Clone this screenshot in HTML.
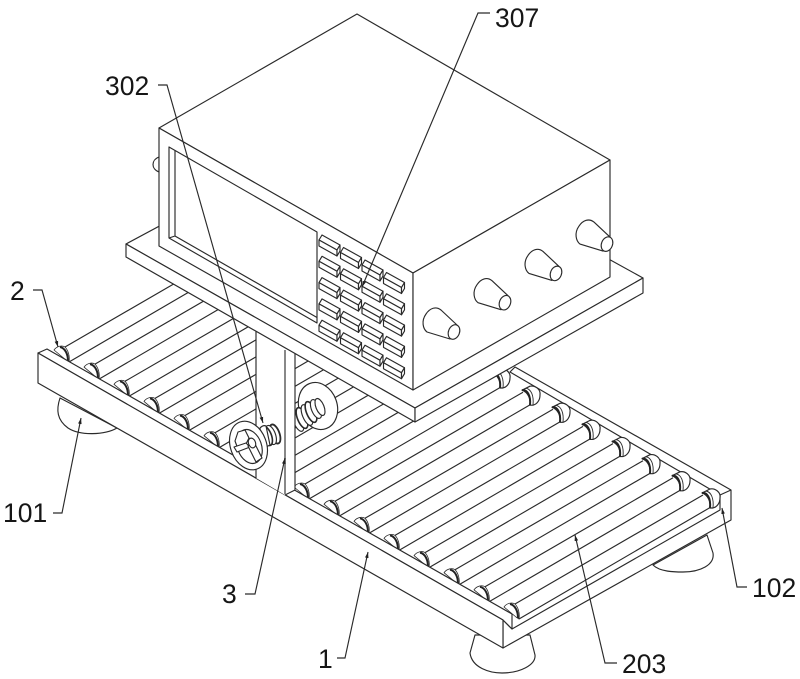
<!DOCTYPE html>
<html><head><meta charset="utf-8"><style>
html,body{margin:0;padding:0;background:#fff}
svg{display:block}
.l{fill:#fff;stroke:#2a2a2a;stroke-width:1.15;stroke-linejoin:round}
.n{fill:none;stroke:#2a2a2a;stroke-width:1.15}
.a{fill:none;stroke:#2a2a2a;stroke-width:1.15;marker-end:url(#ah)}
.d{fill:none;stroke:#222;stroke-width:2}
.t{fill:none;stroke:#2a2a2a;stroke-width:.9}
text{font-family:"Liberation Sans",sans-serif;font-size:26.5px;fill:#161616}
</style></head><body>
<svg width="800" height="679" viewBox="0 0 800 679" xmlns="http://www.w3.org/2000/svg">
<defs>
<marker id="ah" markerUnits="userSpaceOnUse" markerWidth="7" markerHeight="5" refX="6" refY="2.5" orient="auto">
<path d="M0,0.700 L6,2.500 L0,4.300 Z" fill="#222"/>
</marker>
<g id="r">
<path d="M2,-6 L190,-115 L199,-103 L6,9 Z" fill="#fff"/>
<path class="n" d="M2,-6 L190,-115 M6,9 L198,-103"/>
<!-- right collar -->
<path class="l" d="M189,-117 L197,-121 C202,-122 208,-118 207,-112 C207,-107 204,-103 200,-102 L197,-102 C198,-108 195,-115 189,-117 Z"/>
<path class="d" d="M189,-117 C194,-118 198,-112 197,-102"/>
<path class="t" d="M193,-119 C198,-118 201,-112 200,-102"/>
<!-- left crescent -->
<path class="l" d="M-9,-3 C-6,-7 -1,-8 2,-6 C5,-3 7,3 6,9 L3,7 Z" style="stroke-width:.8"/>
<path class="d" d="M-3,-6 C2,-5 5,1 5,8"/>
</g>
<g id="k">
<path class="l" d="M0,0 L3,-5 L21,5 L18,10 Z"/>
<path class="l" d="M0,0 L18,10 L18,16 L0,6 Z"/>
<path class="l" d="M18,10 L21,5 L21,11 L18,16 Z"/>
</g>
<g id="col">
<use href="#k"/><use href="#k" y="21.3"/><use href="#k" y="42.6"/><use href="#k" y="63.9"/><use href="#k" y="85.2"/>
</g>
<g id="kn">
<path class="l" d="M457,325 L441,310 C436,306 430,308 426,314 C421,321 423,329 427,332 L450,339 Z"/>
<ellipse class="l" cx="454" cy="332" rx="5.5" ry="7.5" transform="rotate(22 454 332)"/>
</g>
</defs>

<!-- feet -->
<path class="l" d="M60,398 C56,410 57,420 68,428 C80,436 105,435 117,428 Z"/>
<path class="l" d="M475,635 L470,653 C472,668 490,673 502,673 C520,673 536,665 535,655 L530,635 Z"/>
<path class="l" d="M653,565 C660,572 675,572 683,572 C700,572 715,565 713,553 L707,535 Z"/>

<!-- frame rear + end rail -->
<path class="l" d="M510,372 L515,367 L731,490 L731,520 L503,648 L503,620 L512,629 L720,510 L720,495 Z"/>
<path class="n" d="M720,495 L731,490"/>

<!-- rollers -->
<use href="#r" x="63" y="353"/>
<use href="#r" x="93" y="370.1"/>
<use href="#r" x="123" y="387.3"/>
<use href="#r" x="153" y="404.4"/>
<use href="#r" x="183" y="421.5"/>
<use href="#r" x="213" y="438.7"/>
<use href="#r" x="243" y="455.8"/>
<use href="#r" x="273" y="472.9"/>
<use href="#r" x="303" y="490"/>
<use href="#r" x="333" y="507.2"/>
<use href="#r" x="363" y="524.3"/>
<use href="#r" x="393" y="541.4"/>
<use href="#r" x="423" y="558.6"/>
<use href="#r" x="453" y="575.7"/>
<use href="#r" x="483" y="592.8"/>
<use href="#r" x="513" y="610"/>

<!-- near rail -->
<path class="l" d="M38,353 L47,349 L512,614 L512,629 L503,620 Z"/>
<path class="l" d="M38,353 L503,620 L503,648 L38,383 Z"/>

<!-- right wheel and thread -->
<ellipse class="l" cx="318" cy="406" rx="19" ry="24" transform="rotate(-20 318 406)"/>
<path class="l" d="M296,410 L320,396 L324,410 L298,428 Z" style="stroke:none"/>
<path class="n" d="M295,428 L312,417 C318,418 323,414 324,408"/>
<ellipse class="l" cx="298" cy="421" rx="4.5" ry="11" transform="rotate(-22 298 421)"/>
<ellipse class="l" cx="302" cy="418" rx="4.5" ry="11" transform="rotate(-22 302 418)" style="stroke-width:1.6"/>
<ellipse class="l" cx="307" cy="415" rx="4.5" ry="11" transform="rotate(-22 307 415)"/>
<ellipse class="l" cx="311" cy="412" rx="4.5" ry="11" transform="rotate(-22 311 412)" style="stroke-width:1.6"/>
<ellipse class="l" cx="316" cy="409" rx="4.5" ry="10" transform="rotate(-22 316 409)"/>
<ellipse class="l" cx="320" cy="407" rx="4" ry="9" transform="rotate(-22 320 407)"/>

<!-- column -->
<path d="M256,330 L295,350 L295,490 L285,495 L256,478 Z" fill="#fff"/>
<path class="n" d="M256,330 V478 M295,350 V490"/>
<path d="M285,350 V494" fill="none" stroke="#888" stroke-width="2"/>
<path class="n" d="M285,495 L295,490"/>

<!-- left wheel and thread -->
<ellipse class="l" cx="275" cy="434" rx="4.5" ry="10" transform="rotate(-20 275 434)" style="stroke-width:1.8"/>
<ellipse class="l" cx="271" cy="435" rx="4.5" ry="10" transform="rotate(-20 271 435)"/>
<ellipse class="l" cx="267" cy="436" rx="4.5" ry="10" transform="rotate(-20 267 436)" style="stroke-width:1.6"/>
<path class="l" d="M260,428 C262,426 264,425 266,426 L270,445 L262,449 Z"/>
<ellipse class="l" cx="248.5" cy="445.5" rx="18" ry="25" transform="rotate(-20 248.5 445.5)"/>
<ellipse class="l" cx="249.5" cy="446.5" rx="12" ry="17.5" transform="rotate(-20 249.5 446.5)"/>
<path class="l" d="M238,432 L245,430 L249,438 L245,446 L238,449 L235,441 Z"/>
<path class="l" d="M234,447 L246,443 L250,447 L237,452 Z"/>
<path class="l" d="M248,446 L254,442 L262,458 L256,462 Z"/>
<ellipse class="l" cx="252" cy="443" rx="3.5" ry="5" transform="rotate(-20 252 443)"/>

<!-- upper plate -->
<path class="l" d="M126,244 L357,120 L643,278 L415,408 Z"/>
<path class="l" d="M126,244 L415,408 L415,422 L126,257 Z"/>
<path class="l" d="M415,408 L643,278 L643,293 L415,422 Z"/>

<!-- rear knob -->
<path class="l" d="M159,157 C151,160 151,169 159,172 Z"/>

<!-- box -->
<path class="l" d="M159,128 L357,14 L610,160 L413,273 Z"/>
<path class="l" d="M159,128 L413,273 L413,390 L159,246 Z"/>
<path class="l" d="M413,273 L610,160 L610,277 L413,390 Z"/>

<!-- screen -->
<path class="l" d="M169,147 L317,232 L317,323 L169,238 Z"/>
<path class="n" d="M175,150.5 V236 L317,317.5 M169,238 L175,236"/>

<!-- keypad -->
<use href="#col" x="319" y="240"/>
<use href="#col" x="340.5" y="252.5"/>
<use href="#col" x="362" y="265"/>
<use href="#col" x="383.5" y="277.5"/>

<!-- side knobs -->
<use href="#kn"/>
<use href="#kn" x="51" y="-29.3"/>
<use href="#kn" x="102" y="-58.6"/>
<use href="#kn" x="153" y="-87.9"/>

<!-- leaders -->
<path class="a" d="M490,13 L478,13 L362,287"/>
<path class="a" d="M158,85 L167,85 L263,423"/>
<path class="a" d="M33,290 L42,290 L58,347"/>
<path class="a" d="M53,513 L62,513 L81,418"/>
<path class="a" d="M245,594 L255,594 L285,458"/>
<path class="a" d="M337,658 L345,658 L368,552"/>
<path class="a" d="M617,663 L605,663 L575,535"/>
<path class="a" d="M747,587 L737,587 L722,508"/>

<!-- labels -->
<text x="495" y="27">307</text>
<text x="105" y="95">302</text>
<text x="10" y="300">2</text>
<text x="3" y="522">101</text>
<text x="222" y="603">3</text>
<text x="318" y="668">1</text>
<text x="622" y="673">203</text>
<text x="752" y="597">102</text>
</svg>
</body></html>
